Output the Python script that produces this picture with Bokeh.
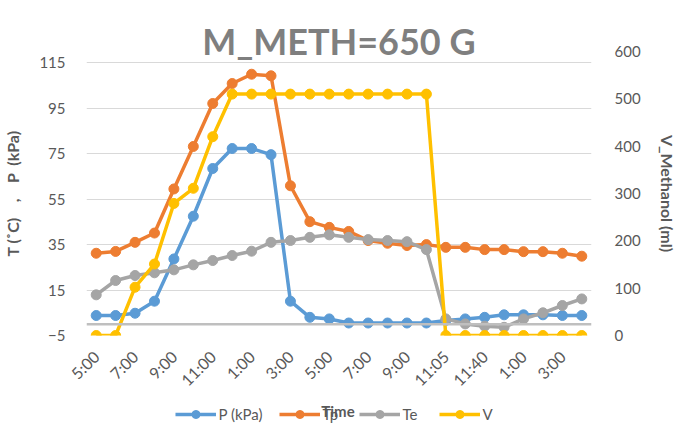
import math
from bokeh.plotting import figure
from bokeh.layouts import column
from bokeh.models import (LinearAxis, Range1d, FixedTicker, Span, Legend,
                          LegendItem, Label)
from bokeh.embed import file_html
from bokeh.resources import INLINE

# ---- data -------------------------------------------------------------
time_labels = ["5:00", "6:00", "7:00", "8:00", "9:00", "10:00", "11:00",
               "12:00", "1:00", "2:00", "3:00", "4:00", "5:00", "6:00",
               "7:00", "8:00", "9:00", "10:00", "11:05", "11:20", "11:40",
               "12:00", "1:00", "2:00", "3:00", "4:00"]
p_kpa = [3.8, 3.8, 4.8, 10.1, 28.7, 47.5, 68.5, 77.3, 77.3, 74.6, 10.1, 3.0,
         2.3, 0.5, 0.5, 0.5, 0.5, 0.5, 1.6, 2.3, 3.0, 4.1, 4.1, 4.1, 3.8, 3.8]
tp = [31.2, 32.0, 36.0, 40.1, 59.5, 78.2, 97.1, 105.9, 110.0, 109.3, 60.9,
      45.1, 42.6, 40.8, 36.8, 35.6, 34.6, 35.0, 33.8, 33.8, 32.8, 32.8, 31.9,
      31.9, 31.2, 29.9]
te = [12.9, 19.2, 21.4, 22.6, 23.9, 26.1, 28.0, 30.2, 32.1, 36.0, 36.8, 38.2,
      39.3, 38.2, 37.2, 36.8, 36.3, 32.8, 2.3, 0.1, -0.9, -1.4, 2.3, 5.0, 8.2,
      11.1]
v_ml = [0, 0, 102, 151, 279, 311, 420, 510, 510, 510, 510, 510, 510, 510,
        510, 510, 510, 510, 0, 0, 0, 0, 0, 0, 0, 0]
left_ticks = [-5, 15, 35, 55, 75, 95, 115]
right_ticks = [0, 100, 200, 300, 400, 500, 600]
series_names = ["P (kPa)", "Tp", "Te", "V"]
title_text = "M_METH=650 G"
x_title = "Time"
NB = "\u00a0"
left_label = "T (˚C)" + NB * 4 + "," + NB * 4 + "P" + NB * 2 + "(kPa)"
right_label = "V_Methanol (ml)"

# ---- styling ----------------------------------------------------------
FONT = "Lato"
GRAY = "#595959"
colors = ["#5B9BD5", "#ED7D31", "#A5A5A5", "#FFC000"]
W = 679
H_MAIN = 401
H_LEG = 446 - H_MAIN

x = list(range(len(time_labels)))

p = figure(width=W, height=H_MAIN, output_backend="svg",
           toolbar_location=None,
           x_range=Range1d(-0.5, len(time_labels) - 0.5),
           y_range=Range1d(-5, 120),
           min_border_left=85, min_border_right=88,
           min_border_top=51, min_border_bottom=66)
p.extra_y_ranges = {"v": Range1d(0, 600)}
p.outline_line_color = None
p.background_fill_color = "white"
p.border_fill_color = "white"

# title
p.title.text = title_text
p.title.align = "center"
p.title.vertical_align = "bottom"
p.title.text_font = FONT
p.title.text_font_style = "bold"
p.title.text_font_size = "36px"
p.title.text_color = "#7F7F7F"
p.title.standoff = -22
p.title.offset = 0

# x axis
p.xaxis.ticker = FixedTicker(ticks=x[::2])
p.xaxis.major_label_overrides = {i: time_labels[i] for i in x}
p.xaxis.major_label_orientation = math.pi / 4

# left axis
p.yaxis.ticker = FixedTicker(ticks=left_ticks)
p.yaxis.axis_label = left_label
p.yaxis.axis_label_text_font = FONT
p.yaxis.axis_label_text_font_style = "bold"
p.yaxis.axis_label_text_font_size = "16px"
p.yaxis.axis_label_text_color = GRAY
p.yaxis.axis_label_standoff = 14
p.yaxis.major_label_standoff = 15

# right axis
ax_r = LinearAxis(y_range_name="v", ticker=FixedTicker(ticks=right_ticks),
                  axis_label=right_label)
ax_r.axis_label_text_font = FONT
ax_r.axis_label_text_font_style = "bold"
ax_r.axis_label_text_font_size = "16px"
ax_r.axis_label_text_color = GRAY
ax_r.axis_label_standoff = 14
ax_r.major_label_standoff = 17
p.add_layout(ax_r, "right")

for ax in [p.xaxis[0], p.yaxis[0], ax_r]:
    ax.axis_line_color = None
    ax.major_tick_line_color = None
    ax.minor_tick_line_color = None
    ax.major_label_text_font = FONT
    ax.major_label_text_font_size = "15px"
    ax.major_label_text_color = GRAY
p.xaxis.major_label_text_font_size = "16px"
p.xaxis.major_label_standoff = 12

p.xgrid.visible = False
p.ygrid.ticker = FixedTicker(ticks=left_ticks)
p.ygrid.grid_line_color = "#D9D9D9"
p.ygrid.grid_line_width = 1

# horizontal axis line crossing at 0
p.add_layout(Span(location=0, dimension="width", line_color="#BFBFBF",
                  line_width=2.5))

# series
proto = []
for name, ys, c in zip(series_names, [p_kpa, tp, te, v_ml], colors):
    kw = {"y_range_name": "v"} if name == "V" else {}
    p.line(x, ys, line_color=c, line_width=3.5, **kw)
    p.scatter(x, ys, size=10, fill_color=c, line_color=c, **kw)
    proto.append((name, c))

# ---- legend strip (below the chart) -----------------------------------
q = figure(width=W, height=H_LEG, output_backend="svg", toolbar_location=None,
           x_range=Range1d(0, 1), y_range=Range1d(0, 1),
           x_axis_type=None, y_axis_type=None,
           min_border_left=0, min_border_right=0,
           min_border_top=0, min_border_bottom=0)
q.outline_line_color = None
q.xgrid.visible = False
q.ygrid.visible = False
q.background_fill_color = "white"
q.border_fill_color = "white"

nan = float("nan")
items = []
for name, c in proto:
    ln = q.line([nan], [nan], line_color=c, line_width=3.5)
    sc = q.scatter([nan], [nan], size=10, fill_color=c, line_color=c)
    items.append(LegendItem(label=name, renderers=[ln, sc]))

legend = Legend(items=items, orientation="horizontal", location="top",
                glyph_width=41, label_standoff=3, spacing=16, padding=0,
                margin=3, label_text_font=FONT, label_text_font_size="15px",
                label_text_color=GRAY, border_line_color=None,
                background_fill_alpha=0)
q.add_layout(legend, "center")

q.add_layout(Label(x=0.498, y=0.98, text=x_title, text_align="center",
                   text_baseline="top", text_font=FONT,
                   text_font_style="bold", text_font_size="15px",
                   text_color=GRAY))

layout = column(p, q, spacing=0)
open("out.html", "w").write(file_html(layout, INLINE))
